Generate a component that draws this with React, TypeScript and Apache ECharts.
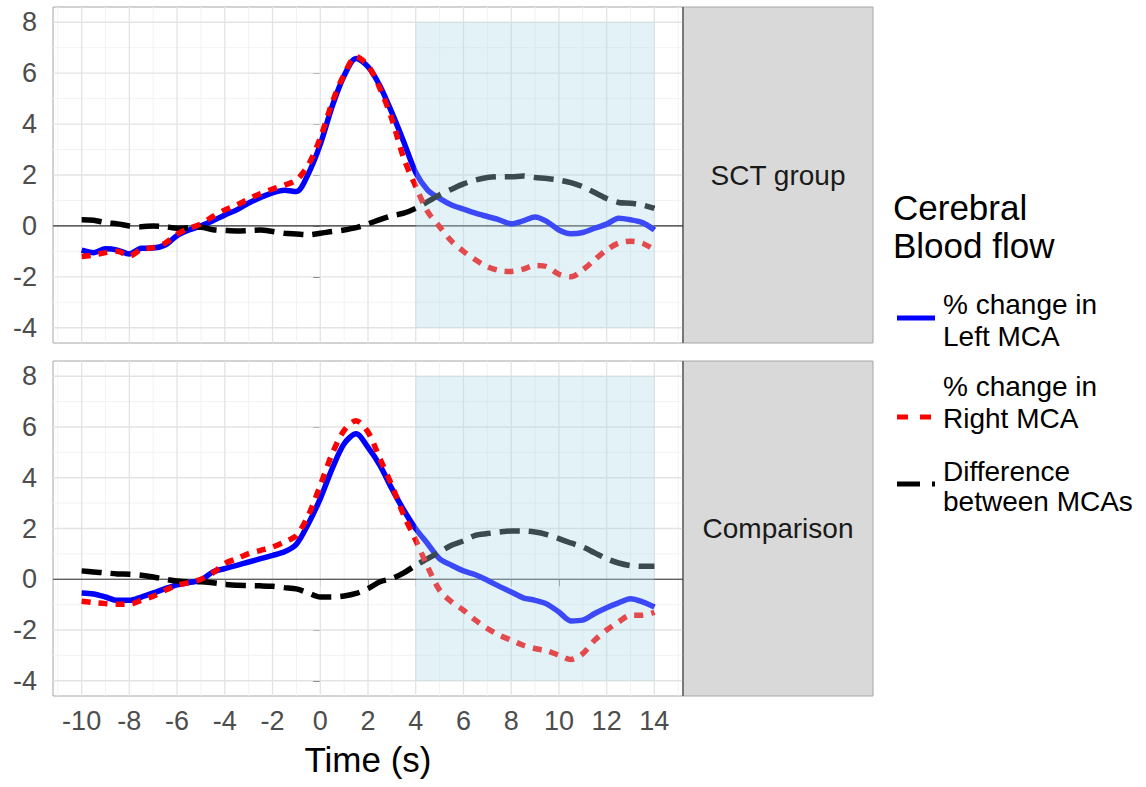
import React, { useEffect, useRef } from "react";
import * as echarts from "echarts";

// ---- data ----
const timeSec = [
  -10, -9.5, -9, -8.5, -8, -7.5, -7, -6.5, -6, -5.5, -5, -4.5, -4, -3.5, -3, -2.5, -2, -1.5, -1, -0.5,
  0, 0.5, 1, 1.5, 2, 2.5, 3, 3.5, 4, 4.5, 5, 5.5, 6, 6.5, 7, 7.5, 8, 8.5, 9, 9.5, 10, 10.5, 11, 11.5,
  12, 12.5, 13, 13.5, 14,
];

const sctLeft = [
  -0.95, -1.05, -0.9, -0.95, -1.1, -0.88, -0.87, -0.75, -0.38, -0.16, 0.0, 0.2, 0.43, 0.63, 0.9, 1.12, 1.3, 1.4, 1.35, 2.05,
  3.2, 4.7, 5.9, 6.58, 6.25, 5.5, 4.45, 3.3, 2.1, 1.41, 1.08, 0.82, 0.66, 0.5, 0.37, 0.24, 0.08, 0.2, 0.35, 0.17,
  -0.16, -0.31, -0.26, -0.09, 0.07, 0.3, 0.24, 0.13, -0.16,
];
const sctRight = [
  -1.2, -1.15, -1.05, -1.0, -1.18, -0.92, -0.85, -0.68, -0.32, -0.1, 0.08, 0.37, 0.63, 0.82, 1.06, 1.27, 1.45, 1.6, 1.8, 2.4,
  3.45, 4.85, 5.95, 6.65, 6.3, 5.4, 4.2, 2.65, 1.55, 0.56, -0.03, -0.6, -1.0, -1.33, -1.6, -1.75, -1.79, -1.7, -1.55, -1.6,
  -1.9, -2.0, -1.73, -1.33, -0.94, -0.68, -0.6, -0.68, -0.94,
];
const sctDiff = [
  0.24, 0.22, 0.13, 0.08, 0.0, -0.03, 0.0, -0.03, -0.09, -0.07, -0.05, -0.15, -0.18, -0.2, -0.18, -0.16, -0.22, -0.29, -0.32, -0.35,
  -0.29, -0.22, -0.16, -0.07, 0.08, 0.25, 0.4, 0.5, 0.69, 0.95, 1.22, 1.44, 1.65, 1.8, 1.9, 1.93, 1.93, 1.96, 1.9, 1.86,
  1.8, 1.7, 1.54, 1.31, 1.08, 0.92, 0.89, 0.82, 0.69,
];

const cmpLeft = [
  -0.54, -0.58, -0.7, -0.83, -0.83, -0.7, -0.54, -0.37, -0.22, -0.13, -0.04, 0.29, 0.42, 0.55, 0.68, 0.81, 0.94, 1.08, 1.38, 2.19,
  3.18, 4.36, 5.34, 5.73, 5.2, 4.49, 3.57, 2.72, 1.99, 1.4, 0.81, 0.55, 0.33, 0.18, -0.04, -0.28, -0.5, -0.73, -0.83, -0.98,
  -1.29, -1.64, -1.61, -1.35, -1.12, -0.93, -0.77, -0.89, -1.09,
];
const cmpRight = [
  -0.87, -0.92, -0.96, -0.98, -0.98, -0.83, -0.67, -0.43, -0.24, -0.13, 0.0, 0.25, 0.62, 0.81, 1.01, 1.14, 1.27, 1.47, 1.73, 2.52,
  3.7, 4.95, 5.87, 6.25, 5.8, 4.75, 3.7, 2.52, 1.54, 0.49, -0.43, -0.89, -1.22, -1.61, -1.94, -2.2, -2.4, -2.6, -2.73, -2.82,
  -2.99, -3.16, -2.93, -2.4, -2.0, -1.68, -1.42, -1.42, -1.3,
];
const cmpDiff = [
  0.33, 0.29, 0.25, 0.21, 0.2, 0.16, 0.09, 0.0, -0.07, -0.1, -0.1, -0.14, -0.2, -0.24, -0.25, -0.26, -0.28, -0.33, -0.38, -0.54,
  -0.7, -0.7, -0.66, -0.56, -0.37, -0.1, 0.03, 0.25, 0.55, 0.81, 1.08, 1.34, 1.51, 1.73, 1.8, 1.86, 1.9, 1.9, 1.86, 1.76,
  1.6, 1.43, 1.27, 1.04, 0.81, 0.64, 0.54, 0.51, 0.51,
];

const panelLabels = ["SCT group", "Comparison"];
const seriesNames = ["% change in Left MCA", "% change in Right MCA", "Difference between MCAs"];
const legendTitle = ["Cerebral", "Blood flow"];
const legendLabels = [
  ["% change in", "Left MCA"],
  ["% change in", "Right MCA"],
  ["Difference", "between MCAs"],
];
const xTicks = [-10, -8, -6, -4, -2, 0, 2, 4, 6, 8, 10, 12, 14];
const xMinor = [-11, -9, -7, -5, -3, -1, 1, 3, 5, 7, 9, 11, 13, 15];
const yTicks = [-4, -2, 0, 2, 4, 6, 8];
const yMinor = [-3, -1, 1, 3, 5, 7];
const shadeWindow = [[4, 14, -4, 8]];
const xAxisTitle = "Time (s)";

// ---- styles / layout ----
const FONT = "'Liberation Sans', Arial, sans-serif";
const X_MIN = -11.2, X_MAX = 15.2, Y_MIN = -4.6, Y_MAX = 8.6;
const grids = [
  { left: 53, top: 7, width: 630, height: 336 },
  { left: 53, top: 361, width: 630, height: 335 },
];
const STRIP_W = 190;
const BLUE = "#0000FF", RED = "#FF0000", BLACK = "#000000";

export default function App() {
  const ref = useRef<HTMLDivElement>(null);

  useEffect(() => {
    if (!ref.current) return;
    const chart = echarts.init(ref.current, null, { renderer: "svg" });
    const panelData = [
      [sctLeft, sctRight, sctDiff],
      [cmpLeft, cmpRight, cmpDiff],
    ];

    const series: any[] = [];
    panelData.forEach((arr, i) => {
      const ax = { xAxisIndex: i, yAxisIndex: i };
      const vLine = (color: string, width: number) => (params: any, api: any) => {
        const v = api.value(0);
        const p0 = api.coord([v, Y_MIN]);
        const p1 = api.coord([v, Y_MAX]);
        return { type: "line", shape: { x1: p0[0], y1: p0[1], x2: p1[0], y2: p1[1] }, style: { stroke: color, lineWidth: width } };
      };
      const hLine = (color: string, width: number) => (params: any, api: any) => {
        const v = api.value(1);
        const p0 = api.coord([X_MIN, v]);
        const p1 = api.coord([X_MAX, v]);
        return { type: "line", shape: { x1: p0[0], y1: p0[1], x2: p1[0], y2: p1[1] }, style: { stroke: color, lineWidth: width } };
      };
      // minor grid
      series.push({ type: "custom", ...ax, z: 1, silent: true, data: xMinor.map((v) => [v, 0]), encode: { x: 0, y: 1 }, renderItem: vLine("#F0F0F0", 0.9) });
      series.push({ type: "custom", ...ax, z: 1, silent: true, data: yMinor.map((v) => [0, v]), encode: { x: 0, y: 1 }, renderItem: hLine("#F0F0F0", 0.9) });
      // major grid
      series.push({ type: "custom", ...ax, z: 1, silent: true, data: xTicks.map((v) => [v, 0]), encode: { x: 0, y: 1 }, renderItem: vLine("#E3E3E3", 1.3) });
      series.push({ type: "custom", ...ax, z: 1, silent: true, data: yTicks.map((v) => [0, v]), encode: { x: 0, y: 1 }, renderItem: hLine("#E3E3E3", 1.3) });
      // zero reference line
      series.push({ type: "custom", ...ax, z: 2, silent: true, data: [[0, 0]], encode: { x: 0, y: 1 }, renderItem: hLine("#333333", 1.2) });

      const styles = [
        { color: BLUE, type: "solid" as any },
        { color: RED, type: [9, 8] },
        { color: BLACK, type: [20, 9] },
      ];
      arr.forEach((vals, k) => {
        series.push({
          name: seriesNames[k],
          type: "line",
          ...ax,
          z: 3 + (k === 0 ? 0 : k === 1 ? 1 : 0.5),
          data: timeSec.map((t, j) => [t, vals[j]]),
          showSymbol: false,
          symbol: "none",
          smooth: 0.3,
          lineStyle: { color: styles[k].color, width: 5.5, type: styles[k].type, cap: "butt" },
          itemStyle: { color: styles[k].color },
        });
      });

      // translucent light-blue window drawn over the lines
      series.push({
        type: "custom",
        ...ax,
        z: 10,
        silent: true,
        data: shadeWindow,
        encode: { x: [0, 1], y: [2, 3] },
        renderItem: (params: any, api: any) => {
          const p0 = api.coord([api.value(0), api.value(3)]);
          const p1 = api.coord([api.value(1), api.value(2)]);
          return {
            type: "rect",
            shape: { x: p0[0], y: p0[1], width: p1[0] - p0[0], height: p1[1] - p0[1] },
            style: { fill: "rgba(173,216,230,0.34)" },
          };
        },
      });
    });

    const graphic: any[] = [];
    grids.forEach((g, i) => {
      graphic.push({
        type: "rect",
        shape: { x: g.left + g.width, y: g.top, width: STRIP_W, height: g.height },
        style: { fill: "#D9D9D9", stroke: "#A6A6A6", lineWidth: 1 },
        z: 1,
      });
      graphic.push({
        type: "line",
        shape: { x1: g.left + g.width, y1: g.top, x2: g.left + g.width, y2: g.top + g.height },
        style: { stroke: "#333333", lineWidth: 1 },
        z: 2,
      });
      graphic.push({
        type: "text",
        x: g.left + g.width + STRIP_W / 2,
        y: g.top + g.height / 2,
        style: { text: panelLabels[i], font: `28px ${FONT}`, fill: "#1A1A1A", align: "center", verticalAlign: "middle" },
        z: 2,
      });
    });

    // legend
    graphic.push({ type: "text", x: 893, y: 207, style: { text: legendTitle[0], font: `35px ${FONT}`, fill: "#000", align: "left", verticalAlign: "middle" } });
    graphic.push({ type: "text", x: 893, y: 245, style: { text: legendTitle[1], font: `35px ${FONT}`, fill: "#000", align: "left", verticalAlign: "middle" } });
    const keyYs = [318, 417, 484];
    const labelYs = [[304, 336], [386, 418], [471, 501]];
    const keyStyles = [
      { stroke: BLUE, lineDash: null },
      { stroke: RED, lineDash: [11, 12] },
      { stroke: BLACK, lineDash: [23, 12] },
    ];
    keyYs.forEach((ky, k) => {
      graphic.push({
        type: "line",
        shape: { x1: 897, y1: ky, x2: 935, y2: ky },
        style: { stroke: keyStyles[k].stroke, lineWidth: 5, lineDash: keyStyles[k].lineDash },
      });
      legendLabels[k].forEach((txt, r) => {
        graphic.push({
          type: "text",
          x: 943,
          y: labelYs[k][r],
          style: { text: txt, font: `28px ${FONT}`, fill: "#000", align: "left", verticalAlign: "middle" },
        });
      });
    });

    const option: any = {
      animation: false,
      backgroundColor: "#FFFFFF",
      grid: grids.map((g) => ({ ...g, show: true, borderColor: "#A6A6A6", borderWidth: 1, backgroundColor: "transparent", containLabel: false })),
      xAxis: grids.map((g, i) => ({
        type: "value",
        gridIndex: i,
        min: X_MIN,
        max: X_MAX,
        splitLine: { show: false },
        axisLine: { show: false },
        axisTick: { show: i === 1, customValues: xTicks, length: 7, lineStyle: { color: "#333333", width: 1 } },
        axisLabel: { show: i === 1, customValues: xTicks, fontSize: 27, color: "#4D4D4D", fontFamily: FONT, margin: 11 },
        name: i === 1 ? xAxisTitle : "",
        nameLocation: "middle",
        nameGap: 46,
        nameTextStyle: { fontSize: 35, color: "#000", fontFamily: FONT },
      })),
      yAxis: grids.map((g, i) => ({
        type: "value",
        gridIndex: i,
        min: Y_MIN,
        max: Y_MAX,
        splitLine: { show: false },
        axisLine: { show: false },
        axisTick: { show: true, customValues: yTicks, length: 7, lineStyle: { color: "#333333", width: 1 } },
        axisLabel: { show: true, customValues: yTicks, fontSize: 27, color: "#4D4D4D", fontFamily: FONT, margin: 16 },
      })),
      series,
      graphic,
    };
    chart.setOption(option);
    return () => chart.dispose();
  }, []);

  return (
    <div
      ref={ref}
      style={{ position: "fixed", left: 0, top: 0, width: 1146, height: 787, background: "#FFFFFF" }}
    />
  );
}
